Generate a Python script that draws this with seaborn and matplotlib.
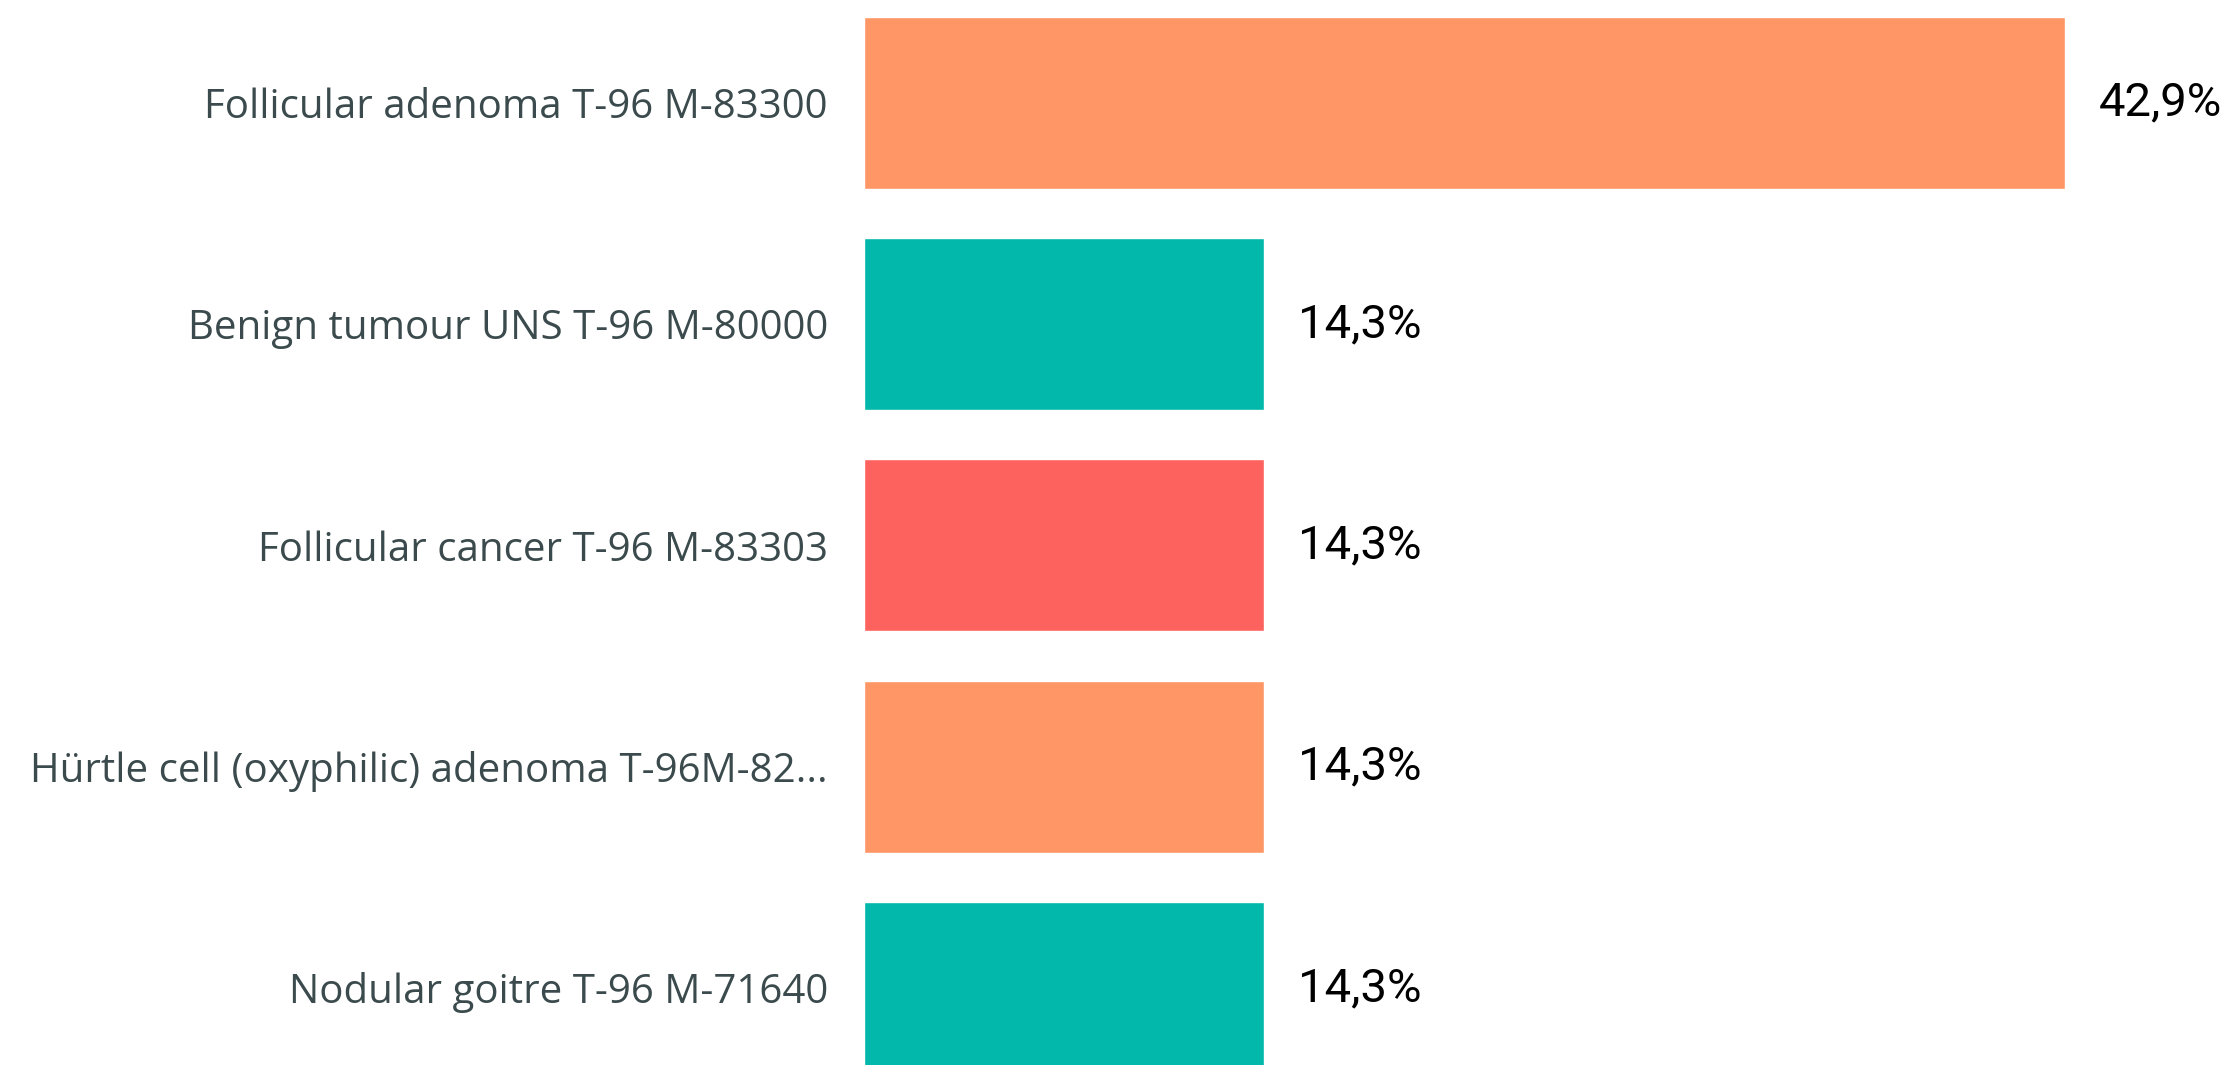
import pandas as pd
import seaborn as sns
import matplotlib.pyplot as plt

# data
categories = [
    "Follicular adenoma T-96 M-83300",
    "Benign tumour UNS T-96 M-80000",
    "Follicular cancer T-96 M-83303",
    "Hürtle cell (oxyphilic) adenoma T-96M-82...",
    "Nodular goitre T-96 M-71640",
]
percent = [42.9, 14.3, 14.3, 14.3, 14.3]
bar_colors = ["#FE9666", "#01B8AA", "#FD625E", "#FE9666", "#01B8AA"]

df = pd.DataFrame({"category": categories, "percent": percent})

sns.set_style("white")

fig = plt.figure(figsize=(22.32, 10.65), dpi=100)
ax = fig.add_axes([864 / 2232, 0, (2232 - 864) / 2232, 1])

sns.barplot(
    data=df, x="percent", y="category", hue="category",
    palette=bar_colors, width=0.776, legend=False, ax=ax,
    saturation=1, orient="h",
)

ax.set_xlim(0, 48.86)
ax.set_ylim(4.348, -0.464)

for s in ax.spines.values():
    s.set_visible(False)
ax.set_xticks([])
ax.set_xlabel("")
ax.set_ylabel("")
ax.tick_params(axis="y", length=0, pad=26)
for t in ax.get_yticklabels():
    t.set_fontfamily(["Open Sans", "DejaVu Sans"])
    t.set_fontsize(29)
    t.set_color("#3B4A4C")

for cont in ax.containers:
    ax.bar_label(
        cont,
        labels=[f"{v:.1f}%".replace(".", ",") for v in cont.datavalues],
        padding=24, fontsize=34, color="black",
        fontfamily=["Roboto", "DejaVu Sans"],
    )

plt.savefig("out.png", dpi=100)
